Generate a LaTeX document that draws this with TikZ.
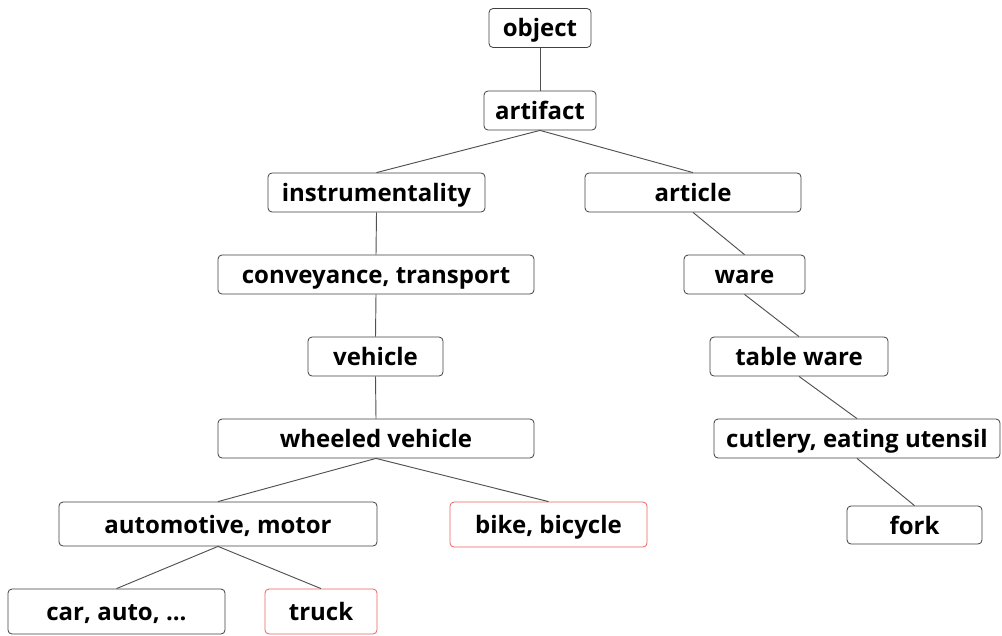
\documentclass[tikz,border=0pt]{standalone}
\usepackage{fontspec}
\setmainfont{Open Sans}
\usetikzlibrary{positioning}

\definecolor{edgegray}{HTML}{505050}
\definecolor{boxgray}{HTML}{404040}
\definecolor{hitred}{HTML}{F06060}

\tikzset{
  term/.style={draw=boxgray, rounded corners=3pt, line width=0.6pt, fill=white,
    inner sep=0pt, minimum height=29.25pt, text height=14pt, text depth=0.5pt,
    font=\fontsize{18}{21}\selectfont\bfseries},
  hit/.style={term, draw=hitred},
  boxw/.style={minimum width=#1*0.75pt},
  boxh/.style={minimum height=#1*0.75pt},
  link/.style={draw=edgegray, line width=0.7pt}
}

\begin{document}
\begin{tikzpicture}[x=0.75pt, y=-0.75pt]
        \useasboundingbox (0,0) rectangle (1002,635);

        % hypernym chain
        \node[term, boxw=102] (object) at (540,28) {object};
        \node[term, boxw=112] (artifact) at (540,110.5) {artifact};
        \node[term, boxw=217] (instr) at (376.5,192.5) {instrumentality};
        \node[term, boxw=216] (article) at (693,192.5) {article};
        \node[term, boxw=316] (convey) at (376,274.5) {conveyance, transport};
        \node[term, boxw=121] (ware) at (744.5,274.5) {ware};
        \node[term, boxw=135] (vehicle) at (375.5,356.5) {vehicle};
        \node[term, boxw=178] (tableware) at (799,356.5) {table ware};
        \node[term, boxw=316] (wheeled) at (376,438.5) {wheeled vehicle};
        \node[term, boxw=286] (cutlery) at (857,438.5) {cutlery, eating utensil};
        \node[term, boxw=318, boxh=44] (auto) at (218,524) {automotive, motor};
        \node[hit, boxw=197, boxh=45] (bike) at (548.5,524.5) {bike, bicycle};
        \node[term, boxw=135, boxh=38] (fork) at (914.5,525) {fork};
        \node[term, boxw=217, boxh=45] (car) at (116.5,611.5) {car, auto, ...};
        \node[hit, boxw=112, boxh=45] (truck) at (321,611.5) {truck};

        \draw[link] (object.south) -- (artifact.north);
        \draw[link] (artifact.south) -- (instr.north);
        \draw[link] (artifact.south) -- (article.north);
        \draw[link] (instr.south) -- (convey.north);
        \draw[link] (convey.south) -- (vehicle.north);
        \draw[link] (vehicle.south) -- (wheeled.north);
        \draw[link] (wheeled.south) -- (auto.north);
        \draw[link] (wheeled.south) -- (bike.north);
        \draw[link] (auto.south) -- (car.north);
        \draw[link] (auto.south) -- (truck.north);
        \draw[link] (article.south) -- (ware.north);
        \draw[link] (ware.south) -- (tableware.north);
        \draw[link] (tableware.south) -- (cutlery.north);
        \draw[link] (cutlery.south) -- (fork.north);
\end{tikzpicture}
\end{document}
